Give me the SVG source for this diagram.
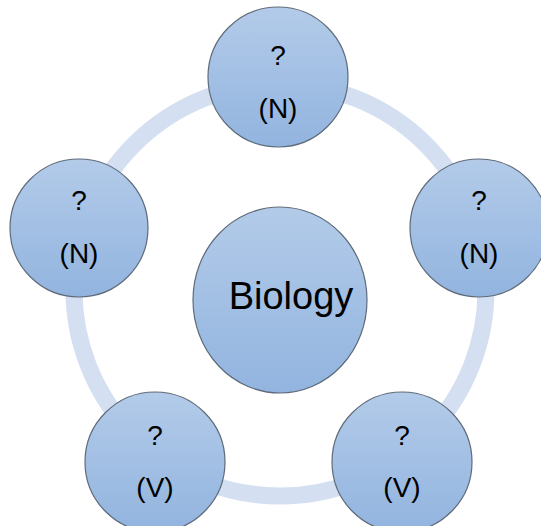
<svg xmlns="http://www.w3.org/2000/svg" width="541" height="526" viewBox="0 0 541 526">
<defs>
<linearGradient id="g" x1="0" y1="0" x2="0" y2="1">
<stop offset="0" stop-color="#B3CBE9"/>
<stop offset="1" stop-color="#92B4DF"/>
</linearGradient>
<style>
.node{fill:url(#g);stroke:#5E6B7A;stroke-width:1.2}
.t{font-family:"Liberation Sans",Arial,sans-serif;font-size:28px;fill:#000;text-anchor:middle}
.big{font-size:38px}
</style>
</defs>
<rect width="541" height="526" fill="#fff"/>
<g id="connectors">
<circle cx="280" cy="290" r="206" fill="none" stroke="#D4E0F1" stroke-width="17"/>
</g>
<g id="center">
<ellipse class="node" cx="280" cy="300" rx="87" ry="93"/>
<text class="t big" x="291" y="309">Biology</text>
</g>
<g id="n1">
<circle class="node" cx="278" cy="77" r="70"/>
<text class="t" x="278" y="65">?</text>
<text class="t" x="278" y="118">(N)</text>
</g>
<g id="n2">
<circle class="node" cx="479" cy="228" r="69"/>
<text class="t" x="479" y="210">?</text>
<text class="t" x="479" y="263">(N)</text>
</g>
<g id="n3">
<circle class="node" cx="402" cy="462" r="70"/>
<text class="t" x="402" y="445">?</text>
<text class="t" x="402" y="497">(V)</text>
</g>
<g id="n4">
<circle class="node" cx="155" cy="462" r="70"/>
<text class="t" x="155" y="445">?</text>
<text class="t" x="155" y="497">(V)</text>
</g>
<g id="n5">
<circle class="node" cx="79" cy="228" r="69"/>
<text class="t" x="79" y="210">?</text>
<text class="t" x="79" y="263">(N)</text>
</g>
</svg>
